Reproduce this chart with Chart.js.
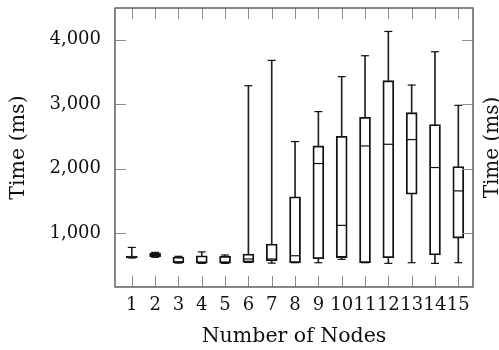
<!DOCTYPE html>
<html>
<head>
<meta charset="utf-8">
<script src="https://cdn.jsdelivr.net/npm/chart.js@4/dist/chart.umd.min.js"></script>
<style>
  html, body { margin: 0; padding: 0; background: #fff; }
  #wrap { width: 499px; height: 350px; position: relative; }
</style>
</head>
<body>
<div id="wrap"><canvas id="boxChart"></canvas></div>
<script>
'use strict'

// number of nodes (x categories)
const nodes = [1, 2, 3, 4, 5, 6, 7, 8, 9, 10, 11, 12, 13, 14, 15];
// box plot statistics in ms
const lowWhisker  = [620, 630, 540, 536, 536, 550, 540, 546, 546, 598, 546, 536, 546, 536, 546];
const lowQuart    = [622, 640, 545, 540, 540, 552, 572, 546, 608, 625, 546, 623, 1607, 665, 927];
const medians     = [635, 660, 556, 550, 552, 603, 603, 654, 2082, 1124, 2354, 2380, 2453, 2020, 1658];
const upQuart     = [648, 691, 634, 654, 645, 680, 835, 1566, 2354, 2504, 2797, 3365, 2870, 2685, 2035];
const highWhisker = [783, 706, 645, 713, 665, 3287, 3679, 2422, 2886, 3427, 3751, 4127, 3297, 3813, 2983];
const yTicks = [1000, 2000, 3000, 4000];

const font = 'DejaVu Serif';

// frame with inward ticks on all four sides (pgfplots style)
const framePlugin = {
  id: 'frame',
  afterDraw(chart) {
    const c = chart.ctx;
    const a = chart.chartArea;
    const xs = chart.scales.x, ys = chart.scales.y;
    const len = 11;
    c.save();
    c.strokeStyle = '#8c8c8c';
    c.lineWidth = 1;
    nodes.forEach(v => {
      const px = Math.round(xs.getPixelForValue(v)) + 0.5;
      c.beginPath();
      c.moveTo(px, a.bottom); c.lineTo(px, a.bottom - len);
      c.moveTo(px, a.top); c.lineTo(px, a.top + len);
      c.stroke();
    });
    yTicks.forEach(v => {
      const py = Math.round(ys.getPixelForValue(v)) + 0.5;
      c.beginPath();
      c.moveTo(a.left, py); c.lineTo(a.left + len, py);
      c.moveTo(a.right, py); c.lineTo(a.right - len, py);
      c.stroke();
    });
    c.strokeStyle = '#555';
    c.lineWidth = 1.4;
    c.strokeRect(a.left, a.top, a.right - a.left, a.bottom - a.top);

    // y label of the neighbouring plot, clipped by the page edge
    c.fillStyle = '#111';
    c.font = '20px "' + font + '"';
    c.translate(493, (a.top + a.bottom) / 2);
    c.rotate(-Math.PI / 2);
    c.textAlign = 'center';
    c.textBaseline = 'middle';
    c.fillText('Time (ms)', 0, 0);
    c.restore();
  }
};

const boxes = nodes.map((n, i) => ({ x: n, y: [lowQuart[i], upQuart[i]] }));
const lowStems = nodes.map((n, i) => ({ x: n, y: [lowWhisker[i], lowQuart[i]] }));
const highStems = nodes.map((n, i) => ({ x: n, y: [upQuart[i], highWhisker[i]] }));
const medPts = nodes.map((n, i) => ({ x: n, y: medians[i] }));
const lowCaps = nodes.map((n, i) => ({ x: n, y: lowWhisker[i] }));
const highCaps = nodes.map((n, i) => ({ x: n, y: highWhisker[i] }));

function marks(data, r) {
  return {
    type: 'line', data: data, showLine: false,
    pointStyle: 'line', pointRadius: r, pointHoverRadius: r,
    pointBorderWidth: 1.2, borderColor: '#111', pointBorderColor: '#111'
  };
}

const ctx = document.getElementById('boxChart').getContext('2d');
const boxChart = new Chart(ctx, {
  type: 'bar',
  data: {
    datasets: [
      marks(medPts, 5),
      marks(lowCaps, 4),
      marks(highCaps, 4),
      { data: lowStems, grouped: false, barThickness: 1, backgroundColor: '#222', borderWidth: 0 },
      { data: highStems, grouped: false, barThickness: 1, backgroundColor: '#222', borderWidth: 0 },
      { data: boxes, grouped: false, barThickness: 11, backgroundColor: 'rgba(255,255,255,0)',
        borderColor: '#111', borderWidth: 1.2, borderSkipped: false }
    ]
  },
  plugins: [framePlugin],
  options: {
    responsive: true,
    maintainAspectRatio: false,
    animation: false,
    layout: { padding: { top: 8, right: 26, left: 0, bottom: 0 } },
    plugins: { legend: { display: false }, tooltip: { enabled: false } },
    scales: {
      x: {
        type: 'linear',
        min: 0.28,
        max: 15.63,
        offset: false,
        grid: { display: false, drawTicks: false },
        border: { display: false },
        afterBuildTicks: axis => { axis.ticks = nodes.map(v => ({ value: v })); },
        afterFit: scale => { scale.height = 63; scale.paddingLeft = 0; scale.paddingRight = 0; },
        ticks: {
          autoSkip: false, maxRotation: 0, padding: 8,
          color: '#111', font: { family: font, size: 18 },
          callback: v => String(v)
        },
        title: {
          display: true, text: 'Number of Nodes', color: '#111',
          font: { family: font, size: 20.5 }, padding: { top: 2, bottom: 1 }
        }
      },
      y: {
        min: 170,
        max: 4490,
        grid: { display: false, drawTicks: false },
        border: { display: false },
        afterBuildTicks: axis => { axis.ticks = yTicks.map(v => ({ value: v })); },
        afterFit: scale => { scale.width = 115; scale.paddingTop = 0; scale.paddingBottom = 0; },
        ticks: {
          padding: 14, color: '#111', font: { family: font, size: 18 },
          callback: v => v.toLocaleString('en-US')
        },
        title: {
          display: true, text: 'Time (ms)', color: '#111',
          font: { family: font, size: 20.5 }, padding: { top: 6, bottom: 0 }
        }
      }
    }
  }
});
</script>
</body>
</html>
